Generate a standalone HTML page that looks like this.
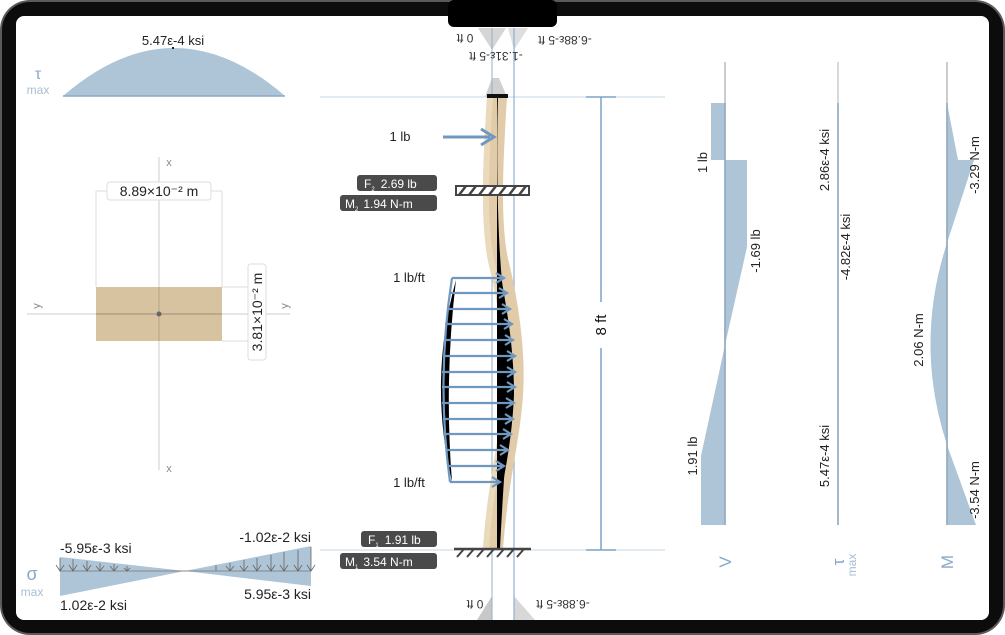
<!DOCTYPE html>
<html><head><meta charset="utf-8"><style>
html,body{margin:0;padding:0;background:#fff;}
svg{display:block;font-family:"Liberation Sans",sans-serif;}
</style></head><body>
<svg width="1005" height="635" viewBox="0 0 1005 635" xmlns="http://www.w3.org/2000/svg">
<rect x="0" y="0" width="1005" height="635" rx="30" fill="#5a5a5a"/>
<rect x="2" y="2" width="1001" height="631" rx="28" fill="#0c0c0c"/>
<rect x="16" y="16" width="973" height="604" rx="8" fill="#fff"/>
<rect x="448" y="0" width="109" height="27" rx="6" fill="#000"/>

<!-- tau max top -->
<path d="M63,96 Q174,0 285,96 Z" fill="#aec4d7"/>
<line x1="63" y1="96" x2="285" y2="96" stroke="#8ea9c2" stroke-width="1.5"/>
<text x="173" y="45" font-size="13" text-anchor="middle" fill="#222">5.47ε-4 ksi</text>
<rect x="172" y="47" width="2" height="2" fill="#222"/>
<text x="38" y="79" font-size="16" text-anchor="middle" fill="#8aa8c8">τ</text>
<text x="38" y="94" font-size="12" text-anchor="middle" fill="#a8bdd2">max</text>

<!-- cross section -->
<line x1="159" y1="157" x2="159" y2="470" stroke="#ccc" stroke-width="1"/>
<line x1="27" y1="314" x2="290" y2="314" stroke="#ccc" stroke-width="1"/>
<text x="169" y="166" font-size="11" text-anchor="middle" fill="#888">x</text>
<text x="169" y="472" font-size="11" text-anchor="middle" fill="#888">x</text>
<text x="36" y="306" font-size="11" text-anchor="middle" fill="#888" transform="rotate(-90 36 306)" dy="4">y</text>
<text x="284" y="306" font-size="11" text-anchor="middle" fill="#888" transform="rotate(-90 284 306)" dy="4">y</text>
<line x1="96" y1="191" x2="96" y2="287" stroke="#ddd"/>
<line x1="222" y1="191" x2="222" y2="287" stroke="#ddd"/>
<line x1="96" y1="191" x2="222" y2="191" stroke="#ddd"/>
<rect x="96" y="287" width="126" height="54" fill="#d8c3a0"/>
<line x1="96" y1="314" x2="222" y2="314" stroke="#a08e74" stroke-width="1"/>
<line x1="159" y1="287" x2="159" y2="341" stroke="#b7a486" stroke-width="1"/>
<circle cx="159" cy="314" r="2.5" fill="#666"/>
<rect x="107" y="182" width="104" height="18" rx="3" fill="#fff" stroke="#ddd"/>
<text x="159" y="196" font-size="14" text-anchor="middle" fill="#222">8.89×10⁻² m</text>
<line x1="222" y1="287" x2="262" y2="287" stroke="#ddd"/>
<line x1="222" y1="341" x2="262" y2="341" stroke="#ddd"/>
<rect x="248" y="264" width="18" height="96" rx="3" fill="#fff" stroke="#ddd"/>
<text x="257" y="312" font-size="14" text-anchor="middle" fill="#222" transform="rotate(-90 257 312)" dy="5">3.81×10⁻² m</text>

<!-- sigma -->
<polygon points="60,557 185,571 60,571" fill="#aec4d7"/>
<polygon points="311,546 185,571 311,571" fill="#aec4d7"/>
<polygon points="60,596 185,571 60,571" fill="#aec4d7"/>
<polygon points="311,586 185,571 311,571" fill="#aec4d7"/>
<line x1="60" y1="571" x2="311" y2="571" stroke="#888" stroke-width="1"/>
<g stroke="#666" stroke-width="0.8" fill="none">
<path d="M60,558 V571 M56,565 L60,571 L64,565"/>
<path d="M73,559 V571 M69,565 L73,571 L77,565"/>
<path d="M87,561 V571 M83,565 L87,571 L91,565"/>
<path d="M100,563 V571 M96,566 L100,571 L104,566"/>
<path d="M114,564 V571 M110,566 L114,571 L118,566"/>
<path d="M127,566 V571 M124,568 L127,571 L130,568"/>
<path d="M216,565 V571"/>
<path d="M230,563 V571 M226,566 L230,571 L234,566"/>
<path d="M244,560 V571 M240,566 L244,571 L248,566"/>
<path d="M257,558 V571 M253,565 L257,571 L261,565"/>
<path d="M271,555 V571 M267,565 L271,571 L275,565"/>
<path d="M284,552 V571 M280,565 L284,571 L288,565"/>
<path d="M298,550 V571 M294,565 L298,571 L302,565"/>
<path d="M311,547 V571 M307,565 L311,571 L315,565"/>
</g>
<text x="60" y="553" font-size="14" fill="#222">-5.95ε-3 ksi</text>
<text x="60" y="610" font-size="14" fill="#222">1.02ε-2 ksi</text>
<text x="311" y="542" font-size="14" text-anchor="end" fill="#222">-1.02ε-2 ksi</text>
<text x="311" y="599" font-size="14" text-anchor="end" fill="#222">5.95ε-3 ksi</text>
<text x="32" y="580" font-size="18" text-anchor="middle" fill="#8aa8c8">σ</text>
<text x="32" y="596" font-size="12" text-anchor="middle" fill="#a8bdd2">max</text>

<!-- center beam guides -->
<line x1="320" y1="97" x2="665" y2="97" stroke="#c4d6e6" stroke-width="1"/>
<line x1="320" y1="550" x2="665" y2="550" stroke="#c4d6e6" stroke-width="1"/>
<polygon points="478,28 506,28 492,50" fill="#d5d5d5"/>
<polygon points="508,28 528,28 514,50" fill="#dedede"/>
<polygon points="492,78 485,97 507,97 499,78" fill="#d0d0d0"/>
<polygon points="477,620 492,596 492,620" fill="#c8c8c8"/>
<polygon points="514,620 514,596 535,620" fill="#d8d8d8"/>
<line x1="492" y1="28" x2="492" y2="620" stroke="#8fb0cf" stroke-width="1"/>
<line x1="514" y1="28" x2="514" y2="620" stroke="#8fb0cf" stroke-width="1.2"/>
<text x="465" y="38" font-size="12" fill="#333" text-anchor="middle" transform="rotate(180 465 38)" dy="4">0 ft</text>
<text x="496" y="56" font-size="12" fill="#333" text-anchor="middle" transform="rotate(180 496 56)" dy="4">-1.31ε-5 ft</text>
<text x="565" y="40" font-size="12" fill="#333" text-anchor="middle" transform="rotate(180 565 40)" dy="4">-6.88ε-5 ft</text>
<text x="475" y="604" font-size="12" fill="#333" text-anchor="middle" transform="rotate(180 475 604)" dy="4">0 ft</text>
<text x="563" y="604" font-size="12" fill="#333" text-anchor="middle" transform="rotate(180 563 604)" dy="4">-6.88ε-5 ft</text>

<!-- beam -->
<path d="M497,97 C493,160 490,220 498,260 C508,300 516,350 513,395 C510,440 498,480 493,548" fill="none" stroke="#e2cba8" stroke-width="20"/>
<path d="M490,97 C486,160 483,220 491,260 C501,300 509,350 506,395 C503,440 491,480 486,548" fill="none" stroke="#eedcc0" stroke-width="6" opacity="0.8"/>
<!-- deflection black fill -->
<path d="M456,280 Q428,380 452,482 Q444,380 456,280 Z" fill="#000"/>
<path d="M497,97 L497,548 L500,548 C503,490 506,450 509,410 C511,370 510,330 503,290 C498,250 496,160 498,97 Z" fill="#000"/>
<path d="M497,250 C500,280 514,330 514,395 C512,440 505,470 500,500 L497,500 Z" fill="#000"/>
<rect x="487" y="94" width="21" height="4" fill="#111"/>

<!-- point load -->
<line x1="443" y1="137" x2="490" y2="137" stroke="#6f98c0" stroke-width="3"/>
<path d="M481,129 L494,137 L481,145" fill="none" stroke="#6f98c0" stroke-width="3"/>
<text x="400" y="141" font-size="13" fill="#222" text-anchor="middle">1 lb</text>

<!-- distributed load -->
<g stroke="#6f98c0" stroke-width="2.2" fill="none">
<path d="M452,278 Q436,380 450,482"/>
<path d="M452,278 H503 M496,273 L504,278 L496,283"/>
<path d="M450,293 H506 M499,288 L507,293 L499,298"/>
<path d="M447,309 H509 M502,304 L510,309 L502,314"/>
<path d="M445,324 H511 M504,319 L512,324 L504,329"/>
<path d="M444,340 H512 M505,335 L513,340 L505,345"/>
<path d="M443,356 H514 M507,351 L515,356 L507,361"/>
<path d="M442,372 H514 M507,367 L515,372 L507,377"/>
<path d="M442,387 H514 M507,382 L515,387 L507,392"/>
<path d="M442,403 H513 M506,398 L514,403 L506,408"/>
<path d="M443,419 H512 M505,414 L513,419 L505,424"/>
<path d="M444,434 H510 M503,429 L511,434 L503,439"/>
<path d="M446,450 H507 M500,445 L508,450 L500,455"/>
<path d="M448,466 H503 M496,461 L504,466 L496,471"/>
<path d="M450,482 H499 M492,477 L500,482 L492,487"/>
</g>
<text x="409" y="282" font-size="13" fill="#222" text-anchor="middle">1 lb/ft</text>
<text x="409" y="487" font-size="13" fill="#222" text-anchor="middle">1 lb/ft</text>

<!-- supports -->
<rect x="456" y="186" width="73" height="9" fill="#fff" stroke="#444" stroke-width="2"/>
<g stroke="#444" stroke-width="2.5"><path d="M459,195 L466,186 M469,195 L476,186 M479,195 L486,186 M489,195 L496,186 M499,195 L506,186 M509,195 L516,186 M519,195 L526,186"/></g>
<line x1="454" y1="549" x2="531" y2="549" stroke="#444" stroke-width="2.5"/>
<g stroke="#444" stroke-width="2"><path d="M457,557 L464,549 M467,557 L474,549 M477,557 L484,549 M487,557 L494,549 M497,557 L504,549 M507,557 L514,549 M517,557 L524,549"/></g>
<rect x="357" y="175" width="80" height="16" rx="3" fill="#4a4a4a"/>
<text x="364" y="188" font-size="12" fill="#fff">F<tspan font-size="6" dy="3">2</tspan><tspan dy="-3" dx="6">2.69 lb</tspan></text>
<rect x="340" y="195" width="97" height="16" rx="3" fill="#4a4a4a"/>
<text x="345" y="208" font-size="12" fill="#fff">M<tspan font-size="6" dy="3">2</tspan><tspan dy="-3" dx="5">1.94 N-m</tspan></text>
<rect x="361" y="531" width="76" height="16" rx="3" fill="#4a4a4a"/>
<text x="368" y="544" font-size="12" fill="#fff">F<tspan font-size="6" dy="3">1</tspan><tspan dy="-3" dx="6">1.91 lb</tspan></text>
<rect x="340" y="553" width="97" height="16" rx="3" fill="#4a4a4a"/>
<text x="345" y="566" font-size="12" fill="#fff">M<tspan font-size="6" dy="3">1</tspan><tspan dy="-3" dx="5">3.54 N-m</tspan></text>

<!-- dimension 8 ft -->
<line x1="601" y1="97" x2="601" y2="550" stroke="#7fa2c4" stroke-width="1.5"/>
<line x1="586" y1="97" x2="616" y2="97" stroke="#7fa2c4" stroke-width="1.5"/>
<line x1="586" y1="550" x2="616" y2="550" stroke="#7fa2c4" stroke-width="1.5"/>
<rect x="591" y="302" width="20" height="46" rx="4" fill="#fff"/>
<text x="601" y="325" font-size="15" fill="#111" text-anchor="middle" transform="rotate(-90 601 325)" dy="5">8 ft</text>

<!-- V diagram -->
<line x1="725" y1="62" x2="725" y2="525" stroke="#bbb" stroke-width="1.5"/>
<rect x="711" y="103" width="14" height="57" fill="#aec4d7"/>
<polygon points="725,160 747,160 747,247 725,345 701,456 701,525 725,525" fill="#aec4d7"/>
<line x1="725" y1="103" x2="725" y2="525" stroke="#8ea9c2" stroke-width="1.5"/>
<text x="707" y="173" font-size="13" fill="#222" transform="rotate(-90 707 173)">1 lb</text>
<text x="756" y="247" font-size="13" fill="#222" text-anchor="middle" transform="rotate(-90 756 247)" dy="4" dx="-4">-1.69 lb</text>
<text x="697" y="456" font-size="13" fill="#222" text-anchor="middle" transform="rotate(-90 697 456)">1.91 lb</text>
<text x="725" y="562" font-size="17" fill="#8aa8c8" text-anchor="middle" transform="rotate(-90 725 562)" dy="6">V</text>

<!-- tau diagram -->
<line x1="838" y1="62" x2="838" y2="525" stroke="#ccc" stroke-width="1.5"/>
<line x1="838" y1="103" x2="838" y2="525" stroke="#8ea9c2" stroke-width="1.5"/>
<text x="829" y="160" font-size="13" fill="#222" transform="rotate(-90 829 160)" text-anchor="middle">2.86ε-4 ksi</text>
<text x="850" y="247" font-size="13" fill="#222" transform="rotate(-90 850 247)" text-anchor="middle">-4.82ε-4 ksi</text>
<text x="829" y="456" font-size="13" fill="#222" transform="rotate(-90 829 456)" text-anchor="middle">5.47ε-4 ksi</text>
<text x="838" y="562" font-size="17" fill="#8aa8c8" text-anchor="middle" transform="rotate(-90 838 562)" dy="6">τ</text>
<text x="852" y="565" font-size="12" fill="#a8bdd2" text-anchor="middle" transform="rotate(-90 852 565)" dy="4">max</text>

<!-- M diagram -->
<line x1="947" y1="62" x2="947" y2="525" stroke="#bbb" stroke-width="1.5"/>
<polygon points="947,103 958,160 974,160 947,243" fill="#aec4d7"/>
<path d="M947,243 Q914,344 947,445 Z" fill="#aec4d7"/>
<polygon points="947,445 976,525 947,525" fill="#aec4d7"/>
<line x1="947" y1="103" x2="947" y2="525" stroke="#8ea9c2" stroke-width="1.5"/>
<text x="979" y="165" font-size="13" fill="#222" transform="rotate(-90 979 165)" text-anchor="middle">-3.29 N-m</text>
<text x="923" y="340" font-size="13" fill="#222" transform="rotate(-90 923 340)" text-anchor="middle">2.06 N-m</text>
<text x="979" y="490" font-size="13" fill="#222" transform="rotate(-90 979 490)" text-anchor="middle">-3.54 N-m</text>
<text x="947" y="562" font-size="17" fill="#8aa8c8" text-anchor="middle" transform="rotate(-90 947 562)" dy="6">M</text>
</svg>
</body></html>
